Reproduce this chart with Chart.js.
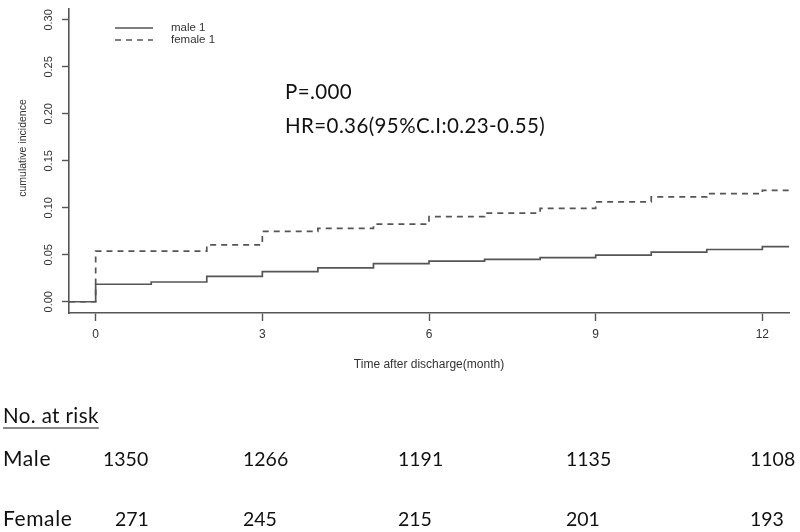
<!DOCTYPE html>
<html>
<head>
<meta charset="utf-8">
<script src="https://cdn.jsdelivr.net/npm/chart.js@4.4.0/dist/chart.umd.min.js"></script>
<style>
  body { margin: 0; background: #fff; }
  #c { display: block; }
</style>
</head>
<body>
<canvas id="c" width="800" height="532"></canvas>
<script>
const months = [0, 1, 2, 3, 4, 5, 6, 7, 8, 9, 10, 11, 12];
const maleInc = [0.0186, 0.0210, 0.0270, 0.0320, 0.0360, 0.0406, 0.0433, 0.0450, 0.0469, 0.0497, 0.0528, 0.0556, 0.0587];
const femaleInc = [0.0538, 0.0538, 0.0605, 0.0748, 0.0780, 0.0826, 0.0906, 0.0944, 0.0993, 0.1063, 0.1115, 0.1150, 0.1185];
const seriesNames = ['male 1', 'female 1'];

// axis ticks
const xTicks = [0, 3, 6, 9, 12];
const yTicks = [0, 0.05, 0.10, 0.15, 0.20, 0.25, 0.30];

// numbers at risk table
const riskTitle = 'No. at risk';
const riskRows = ['Male', 'Female'];
const riskMale = [1350, 1266, 1191, 1135, 1108];
const riskFemale = [271, 245, 215, 201, 193];

const pText = 'P=.000';
const hrText = 'HR=0.36(95%C.I:0.23-0.55)';

// R style axis ranges (4% extension)
const xMin = -0.48, xMax = 12.48;
const yMin = -0.012, yMax = 0.312;

const lineColor = '#555';
const textColor = '#333';
const rFont = 'Liberation Sans';
const noteFont = 'Lato';

function stepPoints(vals) {
    const pts = [{ x: xMin, y: 0 }];
    months.forEach((m, i) => pts.push({ x: m, y: vals[i] }));
    pts.push({ x: xMax, y: vals[vals.length - 1] });
    return pts;
}

// legend, annotations, y title and the at-risk table
const extras = {
    id: 'extras',
    afterDraw(chart) {
        const ctx = chart.ctx;
        ctx.save();

        // legend
        ctx.strokeStyle = lineColor;
        ctx.lineWidth = 1.4;
        ctx.beginPath();
        ctx.moveTo(115, 28); ctx.lineTo(153, 28);
        ctx.stroke();
        ctx.setLineDash([6, 5]);
        ctx.beginPath();
        ctx.moveTo(115, 40); ctx.lineTo(153, 40);
        ctx.stroke();
        ctx.setLineDash([]);
        ctx.fillStyle = textColor;
        ctx.font = '11.5px "' + rFont + '"';
        ctx.textBaseline = 'middle';
        ctx.textAlign = 'left';
        ctx.fillText(seriesNames[0], 171, 28);
        ctx.fillText(seriesNames[1], 171, 40);

        // y axis title
        ctx.save();
        ctx.translate(23, 148);
        ctx.rotate(-Math.PI / 2);
        ctx.textAlign = 'center';
        ctx.font = '10.5px "' + rFont + '"';
        ctx.fillText('cumulative incidence', 0, 0);
        ctx.restore();

        // p value and hazard ratio
        ctx.fillStyle = '#111';
        ctx.font = '20.5px ' + noteFont;
        ctx.textBaseline = 'alphabetic';
        ctx.letterSpacing = '0.4px';
        ctx.fillText(pText, 285, 99);
        ctx.fillText(hrText, 285, 133);

        // numbers at risk
        ctx.fillText(riskTitle, 3, 423);
        const w = ctx.measureText(riskTitle).width;
        ctx.strokeStyle = '#888';
        ctx.lineWidth = 2;
        ctx.beginPath();
        ctx.moveTo(3, 428); ctx.lineTo(3 + w, 428);
        ctx.stroke();

        ctx.font = '21px ' + noteFont;
        ctx.letterSpacing = '0.6px';
        ctx.fillText(riskRows[0], 3, 466);
        ctx.fillText(riskRows[1], 3, 526);
        ctx.font = '19.5px ' + noteFont;
        ctx.letterSpacing = '0px';
        const maleX = [103, 243, 398, 566, 750];
        const femaleX = [115, 243, 398, 566, 750];
        riskMale.forEach((n, i) => ctx.fillText(String(n), maleX[i], 466));
        riskFemale.forEach((n, i) => ctx.fillText(String(n), femaleX[i], 526));

        ctx.restore();
    }
};

const ctx = document.getElementById('c').getContext('2d');
const chart = new Chart(ctx, {
    type: 'line',
    data: {
        datasets: [{
            label: seriesNames[0],
            data: stepPoints(maleInc),
            stepped: true,
            borderColor: lineColor,
            borderWidth: 1.7,
            pointRadius: 0,
            fill: false
        }, {
            label: seriesNames[1],
            data: stepPoints(femaleInc),
            stepped: true,
            borderColor: lineColor,
            borderWidth: 1.7,
            borderDash: [6, 5],
            pointRadius: 0,
            fill: false
        }]
    },
    options: {
        responsive: false,
        animation: false,
        devicePixelRatio: 1,
        layout: { padding: { top: 5, right: 11, left: 0, bottom: 0 } },
        plugins: {
            legend: { display: false },
            tooltip: { enabled: false }
        },
        scales: {
            x: {
                type: 'linear',
                min: xMin,
                max: xMax,
                afterBuildTicks: s => { s.ticks = xTicks.map(v => ({ value: v })); },
                afterFit: s => { s.height = 532 - 313; },
                grid: { drawOnChartArea: false, drawTicks: true, tickLength: 8, tickColor: lineColor, tickWidth: 1.4 },
                border: { display: true, color: lineColor, width: 1.6 },
                ticks: {
                    color: textColor,
                    font: { family: rFont, size: 12 },
                    padding: 6,
                    minRotation: 0,
                    maxRotation: 0
                },
                title: {
                    display: true,
                    text: 'Time after discharge(month)',
                    color: textColor,
                    font: { family: rFont, size: 12 },
                    padding: { top: 0, bottom: 532 - 365 - 7 }
                }
            },
            y: {
                type: 'linear',
                min: yMin,
                max: yMax,
                afterBuildTicks: s => { s.ticks = yTicks.map(v => ({ value: v })); },
                afterFit: s => { s.width = 69; },
                grid: { drawOnChartArea: false, drawTicks: true, tickLength: 7, tickColor: lineColor, tickWidth: 1.4 },
                border: { display: true, color: lineColor, width: 1.6 },
                ticks: {
                    color: textColor,
                    font: { family: rFont, size: 11 },
                    padding: 2,
                    minRotation: 90,
                    maxRotation: 90,
                    crossAlign: 'center',
                    callback: v => v.toFixed(2)
                }
            }
        }
    },
    plugins: [extras]
});
</script>
</body>
</html>
